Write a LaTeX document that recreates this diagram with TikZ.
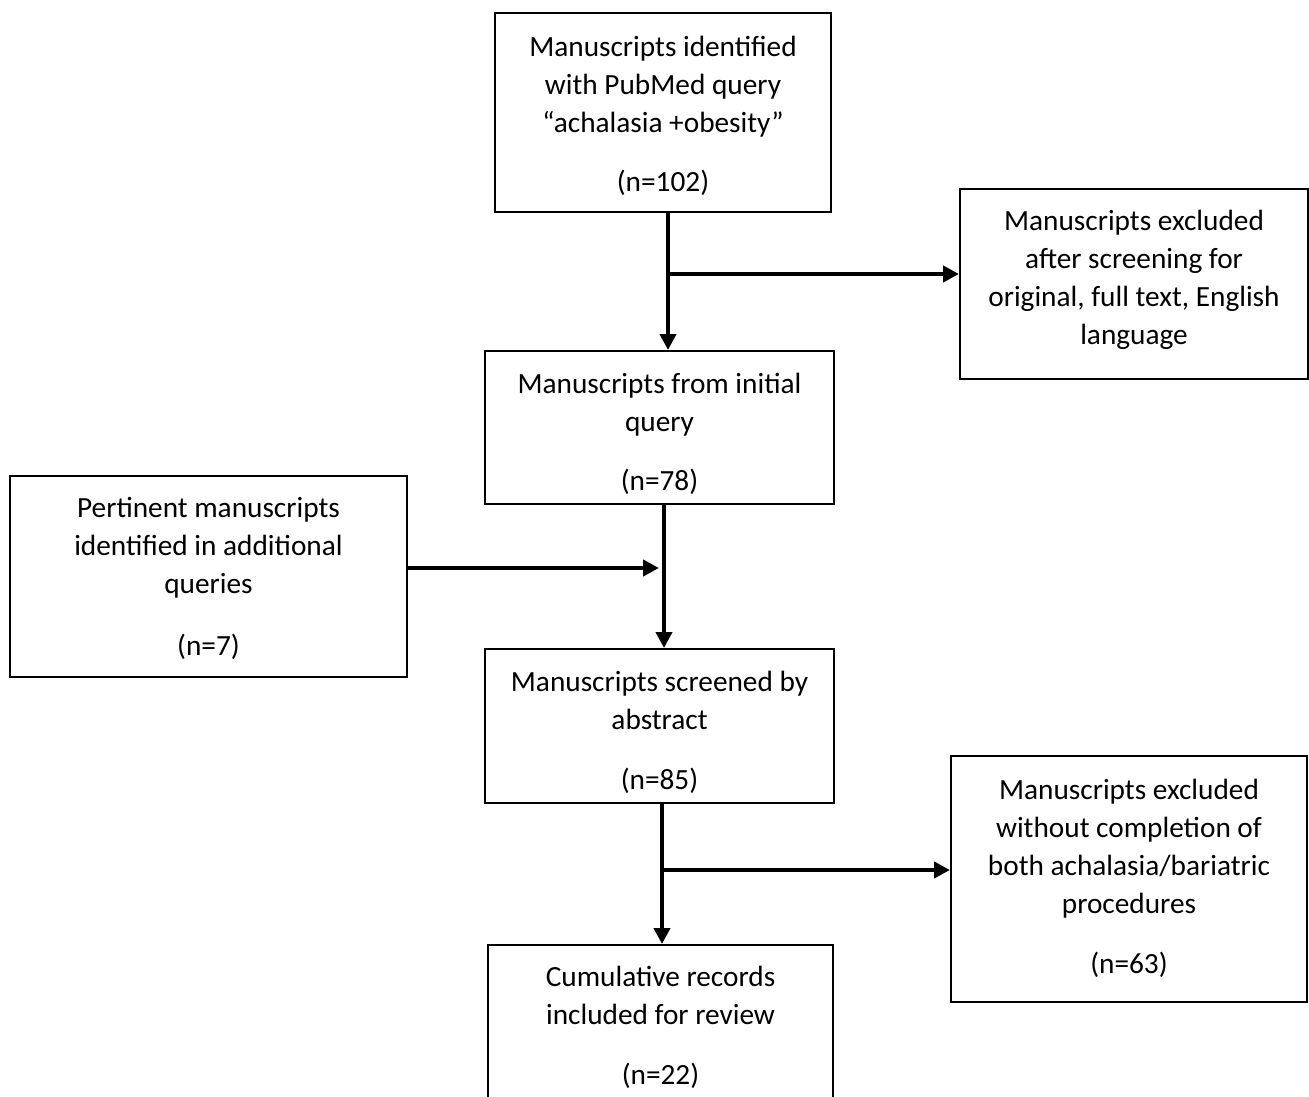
\documentclass[tikz,border=0pt]{standalone}
\usepackage{fontspec}
\setmainfont{Carlito}
\usetikzlibrary{arrows.meta}
\tikzset{
  box/.style={draw=black, line width=1pt, inner sep=0pt},
  txt/.style={align=center, inner sep=0pt, font=\fontsize{14.65}{19}\selectfont},
  arr/.style={line width=2pt, -{Triangle[length=8pt,width=8pt]}},
}
\begin{document}
\begin{tikzpicture}[x=0.5pt,y=-0.5pt]
\useasboundingbox (0,0) rectangle (1309,1096);
\node[box, minimum width=168pt, minimum height=99.5pt,
  label={[txt,yshift=-1.5pt]center:{Manuscripts identified\\with PubMed query\\“achalasia +obesity”\\[10.5pt](n=102)}}]
  (top) at (663,112.5) {};
\node[box, minimum width=174pt, minimum height=95pt,
  label={[txt,yshift=2pt]center:{Manuscripts excluded\\after screening for\\original, full text, English\\language}}]
  (ex1) at (1134,284) {};
\node[box, minimum width=174.5pt, minimum height=76.5pt,
  label={[txt,yshift=-3pt]center:{Manuscripts from initial\\query\\[10.5pt](n=78)}}]
  (mid) at (659.5,427.5) {};
\node[box, minimum width=198.5pt, minimum height=100.5pt,
  label={[txt,yshift=-1pt]center:{Pertinent manuscripts\\identified in additional\\queries\\[12pt](n=7)}}]
  (left) at (208.5,576.5) {};
\node[box, minimum width=174.5pt, minimum height=77pt,
  label={[txt,yshift=-3pt]center:{Manuscripts screened by\\abstract\\[11pt](n=85)}}]
  (scr) at (659.5,726) {};
\node[box, minimum width=178pt, minimum height=123pt,
  label={[txt,yshift=0.5pt]center:{Manuscripts excluded\\without completion of\\both achalasia/bariatric\\procedures\\[11pt](n=63)}}]
  (ex2) at (1129,879) {};
\node[box, minimum width=172.5pt, minimum height=82.5pt,
  label={[txt]center:{Cumulative records\\included for review\\[11pt](n=22)}}]
  (bot) at (660.5,1027.5) {};
\coordinate (j1) at (668,274);
\coordinate (j2) at (659,568);
\coordinate (j2v) at (664,568);
\coordinate (j3) at (662,870);
\draw[arr] (top.south -| j1) -- (mid.north -| j1);
\draw[arr] (j1) -- (ex1.west |- j1);
\draw[arr] (left.east |- j2) -- (j2);
\draw[arr] (mid.south -| j2v) -- (scr.north -| j2v);
\draw[arr] (scr.south -| j3) -- (bot.north -| j3);
\draw[arr] (j3) -- (ex2.west |- j3);
\end{tikzpicture}
\end{document}
